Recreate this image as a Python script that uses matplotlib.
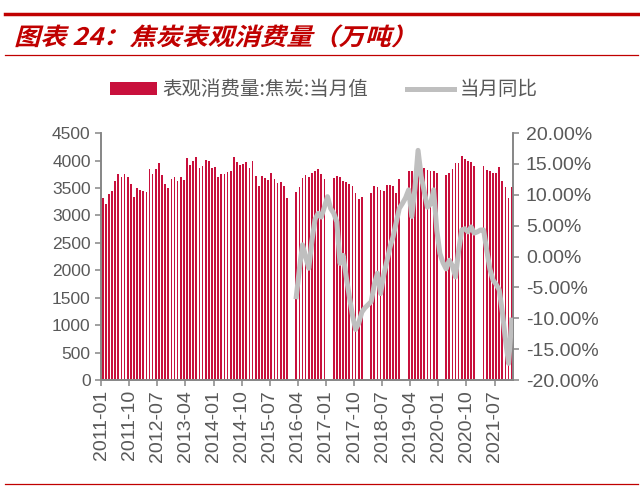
import numpy as np
import matplotlib
matplotlib.use("Agg")
import matplotlib.pyplot as plt
from matplotlib.lines import Line2D
from matplotlib.patches import PathPatch
from matplotlib.textpath import TextPath
from matplotlib.font_manager import FontProperties
from matplotlib.transforms import Affine2D, IdentityTransform

plt.rcParams['font.family'] = ['Liberation Sans', 'Noto Sans CJK SC', 'DejaVu Sans']

# 月份
months = [f"{y}-{m:02d}" for y in range(2011, 2022) for m in range(1, 13)]

# 表观消费量:焦炭:当月值（万吨），2016年起1-2月缺失
cons_2011_2015 = [
    3310, 3200, 3390, 3450, 3620, 3760, 3700, 3750, 3700, 3570, 3340, 3490,
    3460, 3440, 3420, 3840, 3760, 3840, 3950, 3730, 3570, 3500, 3670, 3700,
    3620, 3700, 3650, 4040, 3920, 3990, 4060, 3870, 3900, 4010, 3990, 3860,
    3890, 3700, 3760, 3760, 3790, 3810, 4060, 3980, 3920, 3940, 3980, 3870,
    4000, 3720, 3530, 3720, 3680, 3650, 3780, 3670, 3590, 3600, 3540, 3320,
]
cons_2016_2021 = [
    np.nan, np.nan, 3430, 3510, 3680, 3740, 3700, 3780, 3810, 3840, 3750, 3660,
    np.nan, np.nan, 3680, 3710, 3700, 3630, 3610, 3580, 3540, 3400, 3290, 3340,
    np.nan, np.nan, 3410, 3540, 3510, 3470, 3450, 3550, 3550, 3540, 3410, 3660,
    np.nan, np.nan, 3800, 3800, 3850, 3880, 3900, 3860, 3830, 3810, 3800, 3770,
    np.nan, np.nan, 3740, 3780, 3840, 3950, 3960, 4090, 4030, 3990, 3980, 3900,
    np.nan, np.nan, 3900, 3830, 3810, 3770, 3770, 3880, 3630, 3520, 3310, 3510,
]
consumption = np.array(cons_2011_2015 + cons_2016_2021, dtype=float)

# 当月同比（%），2016-03起
yoy_2016_2021 = [
    -6.5, -2.0, 1.9, 0.0, -1.9, 2.5, 6.0, 7.0, 6.4, 8.0,
    9.7, 7.8, 7.0, 5.6, -1.1, 0.2, -3.3, -6.5, -9.5, -11.8, -10.8, -9.0,
    -8.3, -7.8, -7.3, -4.5, -2.7, -6.0, -3.0, -0.8, 1.5, 3.2, 5.5, 7.8,
    8.6, 9.5, 10.8, 6.5, 11.0, 17.2, 13.0, 10.5, 8.0, 8.5, 10.8, 4.3,
    0.5, -1.0, -2.0, -0.6, -1.5, -3.3, 1.0, 4.3, 4.5, 4.0, 4.8, 3.8,
    4.0, 4.3, 4.3, 1.0, -2.0, -3.8, -4.5, -5.4, -9.0, -13.5, -17.3, -10.3,
]
yoy = np.array([np.nan] * 62 + yoy_2016_2021, dtype=float)

RED = '#C8103C'
GREY = '#BFBFBF'
TXT = '#595959'
AXC = '#868686'

fig = plt.figure(figsize=(6.4, 4.91), dpi=100)
ax = fig.add_axes([0.158, 0.226, 0.644, 0.503])
ax2 = ax.twinx()

idx = np.arange(len(months))
ok = ~np.isnan(consumption)
ax.bar(idx[ok], consumption[ok], width=0.55, color=RED, zorder=2,
       label='表观消费量:焦炭:当月值')
okl = ~np.isnan(yoy)
ax2.plot(idx[okl], yoy[okl], color=GREY, lw=3.6, solid_joinstyle='round',
         label='当月同比', zorder=3)

ax.set_xlim(-0.5, len(months) - 0.5)
ax.set_ylim(0, 4500)
ax.set_yticks(np.arange(0, 4501, 500))
ax2.set_ylim(-20, 20)
ax2.set_yticks(np.arange(-20, 21, 5))
ax2.set_yticklabels([f"{v:.2f}%" for v in np.arange(-20, 21, 5)])

tpos = np.arange(0, len(months), 9)
ax.set_xticks(tpos - 0.5)
ax.set_xticklabels([months[i] for i in tpos], rotation=90)

for a in (ax, ax2):
    a.spines['top'].set_visible(False)
    for s in ('left', 'right', 'bottom'):
        a.spines[s].set_color(AXC)
        a.spines[s].set_linewidth(1.2)
    a.tick_params(colors=AXC, labelcolor=TXT, length=4, width=1.1, labelsize=12.5)
ax.tick_params(axis='x', pad=3, labelsize=14)
ax2.tick_params(axis='y', labelsize=14, pad=5)
ax.set_zorder(ax2.get_zorder() - 1)
ax.patch.set_visible(True)
ax2.patch.set_visible(False)

h1, l1 = ax.get_legend_handles_labels()
h2, l2 = ax2.get_legend_handles_labels()
fig.legend(h1 + h2, l1 + l2, loc='center', bbox_to_anchor=(0.506, 0.817), ncol=2,
           frameon=False, handlelength=2.4, handletextpad=0.3, columnspacing=2.0,
           prop={'family': ['Noto Sans CJK SC'], 'size': 14}, labelcolor=TXT)

# 标题（斜体效果）
fp = FontProperties(family='Noto Sans CJK SC', weight='bold')
tp = TextPath((0, 0), "图表 24：焦炭表观消费量（万吨）", size=24, prop=fp)
tr = Affine2D().skew_deg(14, 0).scale(1.09, 1.0).translate(14, 491 - 45)
fig.add_artist(PathPatch(tp, transform=tr + IdentityTransform(), color='#C00000', lw=0))

# 红色分隔线
fig.add_artist(Line2D([5 / 640, 638 / 640], [1 - 14 / 491] * 2, color='#C00000', lw=2.5))
fig.add_artist(Line2D([5 / 640, 638 / 640], [1 - 55 / 491] * 2, color='#C00000', lw=0.9))
fig.add_artist(Line2D([5 / 640, 638 / 640], [1 - 484 / 491] * 2, color='#C00000', lw=0.9))

fig.savefig('out.png', dpi=100)
